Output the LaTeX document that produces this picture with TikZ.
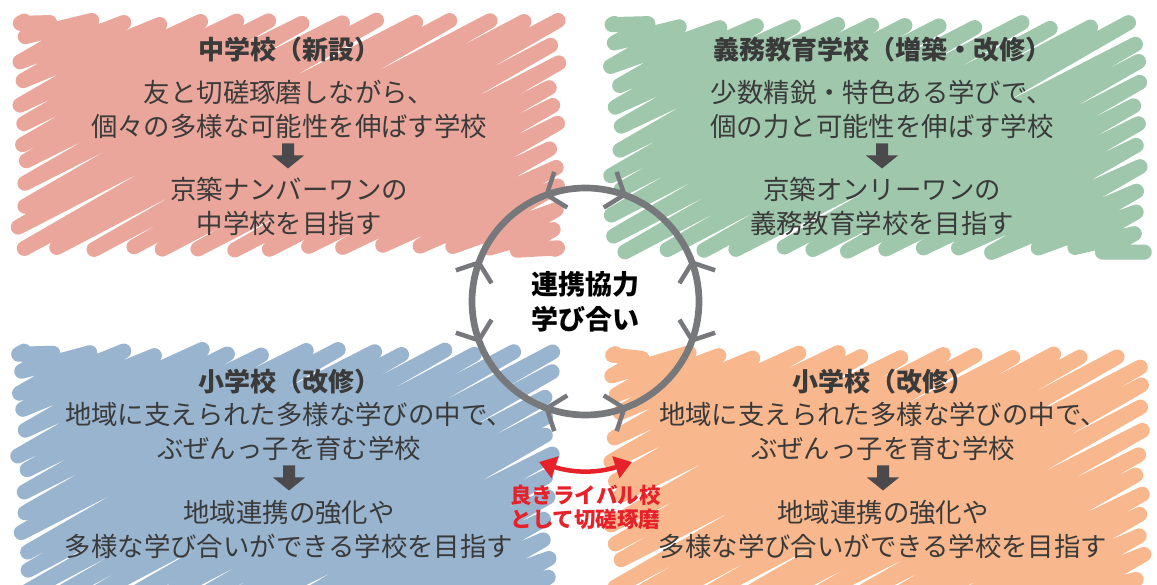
\documentclass[tikz,border=0pt]{standalone}
\usepackage{fontspec}
\setmainfont{Noto Sans CJK JP}
\usetikzlibrary{arrows.meta}
\definecolor{cred}{HTML}{EAA69A}
\definecolor{cgreen}{HTML}{9EC7AC}
\definecolor{cblue}{HTML}{99B4CE}
\definecolor{corange}{HTML}{F8B78C}
\definecolor{txt}{HTML}{3A3A3A}
\definecolor{agray}{HTML}{4A4A4C}
\definecolor{cgray}{HTML}{77787B}
\definecolor{rtxt}{HTML}{E62129}

\newcommand\scrib[6]{%
  \pgfmathsetseed{#6}%
  \pgfmathsetmacro\scbmin{(#3)-0.5774*(#4)+3}%
  \pgfmathsetmacro\scbmax{(#5)-0.5774*(#2)-3}%
  \pgfmathtruncatemacro\scN{(\scbmax-\scbmin)/20.5}%
  \pgfmathsetmacro\scstep{(\scbmax-\scbmin)/\scN}%
  \global\let\scpath\empty
  \foreach \sci in {0,...,\scN}{%
    \pgfmathsetmacro\scb{\scbmin+\sci*\scstep+(rnd-0.5)*5}%
    \pgfmathsetmacro\scxa{max((#2),((#3)-(\scb))/0.5774)}%
    \pgfmathsetmacro\scxb{min((#4),((#5)-(\scb))/0.5774)}%
    \pgfmathsetmacro\scl{max((\scxb)-(\scxa),0)}%
    \pgfmathsetmacro\scxa{(\scxa)+min(rnd*11,(\scl)*0.3)}%
    \pgfmathsetmacro\scxb{(\scxb)-min(rnd*11,(\scl)*0.3)}%
    \pgfmathsetmacro\scya{0.5774*(\scxa)+(\scb)}%
    \pgfmathsetmacro\scyb{0.5774*(\scxb)+(\scb)}%
    \ifnum\sci=0
      \xdef\scpath{(\scxa,\scya) -- (\scxb,\scyb)}%
    \else
      \xdef\scpath{\scpath{} -- (\scxa,\scya) -- (\scxb,\scyb)}%
    \fi
  }%
  \edef\scdo{\noexpand\draw[scribble,draw=#1] \scpath;}%
  \scdo
}

\begin{document}
\begin{tikzpicture}[x=1pt,y=1pt,
  scribble/.style={line width=15pt, line cap=round, line join=round},
  titletext/.style={font=\bfseries\fontsize{26}{34}\selectfont, text=txt, inner sep=0pt},
  bodytext/.style={font=\fontsize{26.4}{34}\selectfont, text=txt, align=center, inner sep=0pt},
  chev/.style={draw=cgray, line width=4.5pt, line cap=butt, line join=round},
  downarr/.pic={\fill[agray] (-6,12.5) -- (6,12.5) -- (6,0.5) -- (16,0.5) -- (0,-12.5) -- (-16,0.5) -- (-6,0.5) -- cycle;}
]
\useasboundingbox (0,0) rectangle (1157,584);
\fill[white] (0,0) rectangle (1157,584);

% scribbled backgrounds
\scrib{cred}{17.5}{333.5}{559.5}{564.5}{11}
\scrib{cgreen}{610.5}{331.5}{1144.5}{561.5}{23}
\scrib{cblue}{17.5}{-16}{553}{234.5}{37}
\scrib{corange}{610.5}{-16}{1144.5}{231.5}{41}

% top-left: junior high
\node[titletext] (rt) at (289,534) {中学校（新設）};
\node[bodytext] (rb1) at (289,474.5) {友と切磋琢磨しながら、\\個々の多様な可能性を伸ばす学校};
\pic (ra) at (288,428) {downarr};
\node[bodytext] (rb2) at (289,378) {京築ナンバーワンの\\中学校を目指す};

% top-right: compulsory education school
\node[titletext] (gt) at (882,534) {義務教育学校（増築・改修）};
\node[bodytext] (gb1) at (882,474.5) {少数精鋭・特色ある学びで、\\個の力と可能性を伸ばす学校};
\pic (ga) at (882,428) {downarr};
\node[bodytext] (gb2) at (882,378) {京築オンリーワンの\\義務教育学校を目指す};

% bottom-left: elementary
\node[titletext] (bt) at (289,202) {小学校（改修）};
\node[bodytext] (bb1) at (289,152.5) {地域に支えられた多様な学びの中で、\\ぶぜんっ子を育む学校};
\pic (ba) at (289,106) {downarr};
\node[bodytext] (bb2) at (289,55) {地域連携の強化や\\多様な学び合いができる学校を目指す};

% bottom-right: elementary
\node[titletext] (ot) at (883,202) {小学校（改修）};
\node[bodytext] (ob1) at (883,152.5) {地域に支えられた多様な学びの中で、\\ぶぜんっ子を育む学校};
\pic (oa) at (883,106) {downarr};
\node[bodytext] (ob2) at (883,55) {地域連携の強化や\\多様な学び合いができる学校を目指す};

% central cycle
\node[circle, draw=cgray, line width=6.7pt, minimum size=227pt, inner sep=0pt, outer sep=0pt,
      font=\bfseries\fontsize{27}{35}\selectfont, text=black, align=center] (cyc) at (585.5,282.5) {連携協力\\学び合い};
\foreach \a/\d in {20/1,70/-1,110/1,160/-1,200/1,250/-1,290/1,340/-1}{
  \begin{scope}[shift={(cyc.\a)}, rotate=\a]
    \draw[chev] (19,{-(\d)*15}) -- (0,0) -- (-19,{-(\d)*15});
  \end{scope}
}

% rivalry arrow
\coordinate (ral) at (539,122);
\coordinate (rar) at (632,122);
\draw[rtxt, line width=4.5pt, {Triangle[length=17pt,width=22pt]}-{Triangle[length=17pt,width=22pt]}] (ral) to[bend right=18] (rar);
\node[font=\bfseries\fontsize{21.5}{24}\selectfont, text=rtxt, align=center, inner sep=0pt] (rlab) at (585.5,77) {良きライバル校\\として切磋琢磨};
\end{tikzpicture}
\end{document}
